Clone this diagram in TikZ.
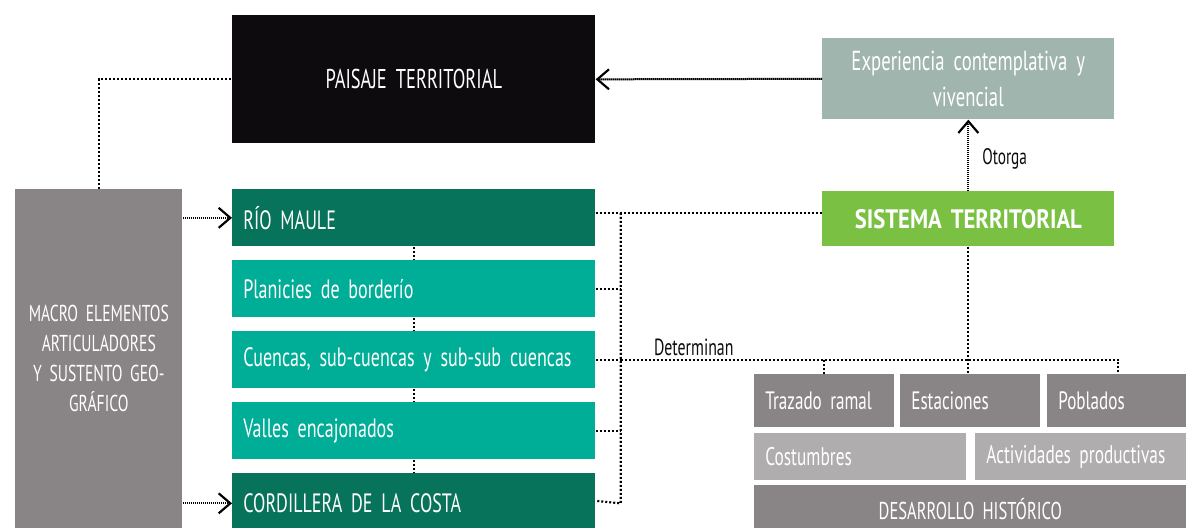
\documentclass[tikz,border=0pt]{standalone}
\usepackage{fontspec}
\setmainfont{PT Sans}[FakeStretch=0.68,WordSpace=1.5,BoldFeatures={FakeStretch=0.85,WordSpace=1}]
\usetikzlibrary{arrows.meta,calc}

\definecolor{negro}{HTML}{0D0B0E}
\definecolor{verdeosc}{HTML}{06735A}
\definecolor{turquesa}{HTML}{00AD96}
\definecolor{grisosc}{HTML}{898485}
\definecolor{grisclaro}{HTML}{B0ADAE}
\definecolor{salvia}{HTML}{9FB5AD}
\definecolor{lima}{HTML}{7AC143}
\newcommand{\upx}{0.6pt}

\begin{document}
\begin{tikzpicture}[x=0.6pt, y=-0.6pt]
		\tikzstyle{caja}=[anchor=north west, inner xsep=11*\upx, inner ysep=0pt, text=white, font=\fontsize{15.9}{18}\selectfont]
		\tikzstyle{verde}=[caja, fill=verdeosc, text width=341*\upx, minimum height=57*\upx, align=left]
		\tikzstyle{agua}=[verde, fill=turquesa]
		\tikzstyle{gris}=[caja, fill=grisosc, text width=118*\upx, minimum height=53*\upx, align=left, font=\fontsize{15.1}{17}\selectfont]
		\tikzstyle{claro}=[caja, fill=grisclaro, minimum height=47*\upx, align=left, font=\fontsize{15.3}{17}\selectfont]
		\tikzstyle{puntos}=[line width=1.3pt, dash pattern=on 1.2pt off 1.2pt]
		\tikzstyle{flecha}=[line width=1.2pt, dash pattern=on 0.8pt off 0.4pt, -{Straight Barb[length=7pt,width=12pt,line width=1.3pt]}]
		\tikzstyle{etiqueta}=[inner sep=0pt, text=negro, font=\fontsize{14}{16}\selectfont]

		\clip (0,0) rectangle (1186,528);

		% cajas de arriba
		\node[caja, fill=negro, text width=341*\upx, minimum height=128*\upx, align=center,
			font=\fontsize{16.3}{20}\selectfont] (paisaje) at (232,15) {PAISAJE TERRITORIAL};
		\node[caja, fill=salvia, text width=270*\upx, minimum height=81*\upx, align=center,
			font=\fontsize{16.5}{21.6}\selectfont] (experiencia) at (822,38) {Experiencia contemplativa y\\vivencial};
		\node[caja, fill=lima, text width=270*\upx, minimum height=55*\upx, align=center,
			font=\fontsize{16}{18}\selectfont\bfseries] (sistema) at (822,191) {SISTEMA TERRITORIAL};

		% macro elementos
		\node[caja, fill=grisosc, text width=145*\upx, minimum height=339*\upx, align=center,
			font=\fontsize{13.8}{18}\selectfont] (macro) at (15,189) {MACRO ELEMENTOS\\ARTICULADORES\\Y SUSTENTO GEO-\\GRÁFICO};
		\node[verde] (rio) at (232,189) {RÍO MAULE};
		\node[agua] (planicies) at (232,260) {Planicies de borderío};
		\node[agua] (cuencas) at (232,331) {Cuencas, sub-cuencas y sub-sub cuencas};
		\node[agua] (valles) at (232,402) {Valles encajonados};
		\node[verde, minimum height=60*\upx] (cordillera) at (232,473) {CORDILLERA DE LA COSTA};

		% desarrollo historico
		\node[gris] (trazado) at (754,374) {Trazado ramal};
		\node[gris] (estaciones) at (900,374) {Estaciones};
		\node[gris, text width=120*\upx] (poblados) at (1047,374) {Poblados};
		\node[claro, text width=190*\upx] (costumbres) at (754,433) {Costumbres};
		\node[claro, text width=189*\upx] (actividades) at (975,433) {Actividades productivas};
		\node[caja, fill=grisosc, text width=410*\upx, minimum height=48*\upx, align=center,
			font=\fontsize{14.6}{16}\selectfont] (desarrollo) at (754,485) {DESARROLLO HISTÓRICO};

		% conectores
		\draw[puntos] (macro.north) |- (paisaje.west);
		\draw[flecha] (experiencia.west) -- (paisaje.east);
		\draw[flecha] (sistema.north) -- (experiencia.south)
			node[etiqueta, pos=0.45, right, xshift=13*\upx, font=\fontsize{13.5}{16}\selectfont] (otorga) {Otorga};
		\draw[flecha] (macro.east |- rio.west) -- (rio.west);
		\draw[flecha] (macro.east |- cordillera.west) -- (cordillera.west);

		\foreach \a/\b in {rio/planicies, planicies/cuencas, cuencas/valles, valles/cordillera}
			\draw[puntos] (\a.south) -- (\b.north);

		\coordinate (tronco) at ($(rio.east)+(25,-5)$);
		\draw[puntos] ([yshift=3pt]rio.east) -- ([yshift=3pt]rio.east -| sistema.west);
		\draw[puntos] (tronco) -- (tronco |- cordillera.east) -- ([yshift=1.5pt]cordillera.east);
		\foreach \n in {planicies, cuencas, valles}
			\draw[puntos] (\n.east) -- (\n.east -| tronco);

		\coordinate (det) at (cuencas.east -| tronco);
		\draw[puntos] (det) -- (det -| poblados.north) -- (poblados.north);
		\draw[puntos] (det -| trazado.north) -- (trazado.north);
		\draw[puntos] (sistema.south) -- (sistema.south |- estaciones.north);
		\node[etiqueta, anchor=base west] (determinan) at ($(det)+(33,-4)$) {Determinan};
\end{tikzpicture}
\end{document}
